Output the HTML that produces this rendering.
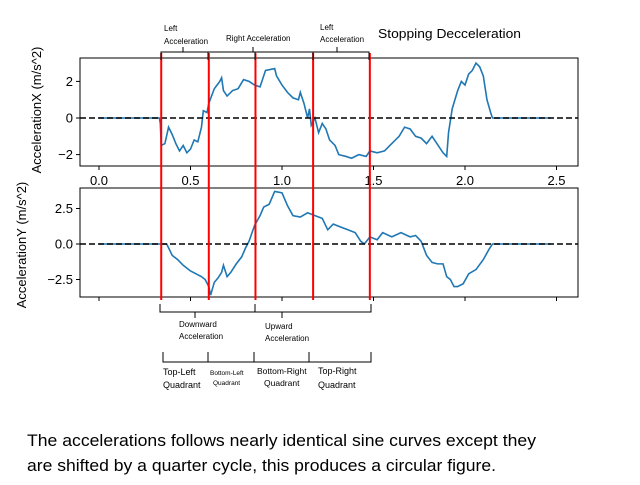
<!DOCTYPE html>
<html><head><meta charset="utf-8"><style>
body{margin:0;background:#fff}
svg text{font-family:"Liberation Sans",sans-serif}
</style></head><body>
<svg id="chart" width="640" height="480" viewBox="0 0 640 480" xmlns="http://www.w3.org/2000/svg">
<g id="top"></g>
<g id="bot"></g>
<g id="ann"></g>
<text x="27" y="446" font-size="16.5" textLength="509" lengthAdjust="spacingAndGlyphs" fill="#000">The accelerations follows nearly identical sine curves except they</text>
<text x="27" y="471" font-size="16.5" textLength="469" lengthAdjust="spacingAndGlyphs" fill="#000">are shifted by a quarter cycle, this produces a circular figure.</text>
</svg>
<script>
const xTicks=[0,0.5,1.0,1.5,2.0,2.5];
const xTickLabels=["0.0","0.5","1.0","1.5","2.0","2.5"];
const topTicks=[2,0,-2];
const topTickLabels=["2","0","\u22122"];
const botTicks=[2.5,0,-2.5];
const botTickLabels=["2.5","0.0","\u22122.5"];
const redLines=[0.34,0.6,0.855,1.17,1.48];
const timeX=[0,0.33,0.335,0.34,0.36,0.38,0.40,0.42,0.44,0.46,0.48,0.50,0.52,0.54,0.56,0.57,0.59,0.60,0.63,0.66,0.67,0.68,0.70,0.73,0.76,0.79,0.82,0.85,0.88,0.91,0.96,0.97,1.00,1.03,1.06,1.09,1.10,1.12,1.14,1.15,1.16,1.18,1.20,1.22,1.24,1.26,1.29,1.31,1.35,1.38,1.42,1.46,1.48,1.52,1.56,1.60,1.64,1.67,1.70,1.73,1.76,1.79,1.82,1.84,1.88,1.90,1.91,1.93,1.96,1.98,2.00,2.02,2.04,2.06,2.08,2.10,2.12,2.14,2.15,2.47];
const accelX=[0,0,-0.3,-1.5,-1.4,-0.5,-0.9,-1.4,-1.8,-1.5,-1.9,-1.7,-1.2,-1.3,-0.5,0.4,0.3,0.8,1.6,2.0,2.2,1.5,1.2,1.5,1.6,2.1,2.0,1.8,1.7,2.6,2.7,2.3,1.8,1.4,1.1,1.0,1.4,0.8,0.0,0.5,-0.4,0,-0.8,-0.3,-0.6,-1.2,-1.5,-2.0,-2.1,-2.2,-2.0,-2.1,-1.8,-1.9,-1.8,-1.4,-1.0,-0.5,-0.6,-1.0,-1.1,-1.4,-1.0,-1.3,-1.9,-2.1,-0.8,0.5,1.5,2.0,1.8,2.4,2.6,3.0,2.8,2.3,1.0,0.3,0,0];
const timeY=[0,0.37,0.40,0.43,0.46,0.50,0.53,0.56,0.58,0.60,0.61,0.63,0.65,0.67,0.68,0.70,0.72,0.75,0.78,0.80,0.82,0.85,0.88,0.90,0.93,0.96,1.00,1.03,1.06,1.10,1.14,1.18,1.22,1.25,1.28,1.32,1.36,1.40,1.43,1.45,1.48,1.52,1.55,1.60,1.65,1.70,1.73,1.76,1.79,1.82,1.85,1.88,1.90,1.92,1.94,1.96,1.99,2.02,2.06,2.10,2.13,2.15,2.47];
const accelY=[0,0,-0.8,-1.1,-1.5,-1.9,-2.1,-2.3,-2.5,-3.0,-3.6,-2.7,-2.4,-2.0,-1.5,-2.3,-2.0,-1.4,-0.9,-0.3,0.2,1.3,2.0,2.6,2.8,3.7,3.6,2.7,2.0,1.9,2.2,2.0,1.8,1.0,1.4,1.2,1.0,0.8,0.2,0.0,0.5,0.3,0.8,0.5,0.8,0.5,0.6,0.2,-0.8,-1.3,-1.4,-1.4,-2.3,-2.5,-3.0,-3.0,-2.8,-2.1,-1.8,-1.1,-0.4,0,0];

const NS="http://www.w3.org/2000/svg";
function mk(p,tag,a){const e=document.createElementNS(NS,tag);for(const k in a)e.setAttribute(k,a[k]);p.appendChild(e);return e;}
const L=80,R=578;
const xs=v=>99+v*183;
function panel(g,top,bottom,y0,ppu,ticks,labels,tArr,vArr,showX){
  const ys=v=>y0-v*ppu;
  const ln=mk(g,'polyline',{points:tArr.map((t,i)=>xs(t)+','+ys(vArr[i])).join(' '),fill:'none',stroke:'#1f77b4','stroke-width':1.6});
  
  
  const z=mk(g,'line',{x1:L,x2:R,y1:ys(0),y2:ys(0),stroke:'#000','stroke-width':1.6,'stroke-dasharray':'6,3'});
  
  
  const f=mk(g,'rect',{x:L,y:top,width:R-L,height:bottom-top,fill:'none',stroke:'#000','stroke-width':1});
  
  
  ticks.forEach((v,i)=>{
    mk(g,'line',{x1:L-4,x2:L,y1:ys(v),y2:ys(v),stroke:'#000'});
    const t=mk(g,'text',{x:L-7,y:ys(v)+4.5,'text-anchor':'end','font-size':13});
    t.textContent=labels[i];
    
    
  });
  xTicks.forEach((v,i)=>{
    mk(g,'line',{x1:xs(v),x2:xs(v),y1:bottom,y2:bottom+4,stroke:'#000'});
    if(showX){const t=mk(g,'text',{x:xs(v),y:bottom+19,'text-anchor':'middle','font-size':13});
    t.textContent=xTickLabels[i];
    
    }
  });
}
panel(document.getElementById('top'),58,166,118,18.3,topTicks,topTickLabels,timeX,accelX,true);
panel(document.getElementById('bot'),188,297,244,14.2,botTicks,botTickLabels,timeY,accelY,false);
const a=document.getElementById('ann');
let yl=mk(a,'text',{transform:'translate(41,110) rotate(-90)','text-anchor':'middle','font-size':13});yl.textContent='AccelerationX (m/s^2)';


yl=mk(a,'text',{transform:'translate(26,245) rotate(-90)','text-anchor':'middle','font-size':13});yl.textContent='AccelerationY (m/s^2)';


redLines.forEach(v=>{const r=mk(a,'line',{x1:xs(v),x2:xs(v),y1:53,y2:300,stroke:'#f00','stroke-width':2});

});
const blk={stroke:'#000','stroke-width':1,fill:'none'};
mk(a,'polyline',Object.assign({points:'161,60 161,52 369,52 369,60'},blk));
[208,255,313].forEach(x=>mk(a,'line',Object.assign({x1:x,x2:x,y1:52,y2:60},blk)));
[183,253,337].forEach(x=>mk(a,'line',Object.assign({x1:x,x2:x,y1:47,y2:52,'stroke-width':1.5},blk)));
function txt(x,y,s,fs,name){const t=mk(a,'text',{x:x,y:y,'font-size':fs});t.textContent=s;return t;}
txt(164,31,'Left',8,'label-left-accel');txt(164,44,'Acceleration',8,'label-left-accel');
txt(226,41,'Right Acceleration',8,'label-right-accel');
txt(320,30,'Left',8,'label-left-accel-2');txt(320,42,'Acceleration',8,'label-left-accel-2');
const st=txt(378,38,'Stopping Decceleration',13,'label-stopping');
st.setAttribute('textLength','143');st.setAttribute('lengthAdjust','spacingAndGlyphs');
mk(a,'polyline',Object.assign({points:'160,304 160,312 371,312 371,304'},blk));
mk(a,'line',Object.assign({x1:255,x2:255,y1:304,y2:312},blk));
[195,282].forEach(x=>mk(a,'line',Object.assign({x1:x,x2:x,y1:312,y2:318,'stroke-width':1.5},blk)));
txt(179,327,'Downward',8,'label-downward');txt(179,339,'Acceleration',8,'label-downward');
txt(265,329,'Upward',8,'label-upward');txt(265,341,'Acceleration',8,'label-upward');
mk(a,'polyline',Object.assign({points:'163,352 163,362 371,362 371,352'},blk));
[208,254,309].forEach(x=>mk(a,'line',Object.assign({x1:x,x2:x,y1:352,y2:362},blk)));
txt(163,375,'Top-Left',9,'label-top-left');txt(163,388,'Quadrant',9,'label-top-left');
txt(210,375,'Bottom-Left',6.5,'label-bottom-left');txt(213,385,'Quadrant',6.5,'label-bottom-left');
txt(257,374,'Bottom-Right',8.5,'label-bottom-right');txt(264,386,'Quadrant',8.5,'label-bottom-right');
txt(318,374,'Top-Right',9,'label-top-right');txt(318,388,'Quadrant',9,'label-top-right');
</script>
</body></html>
